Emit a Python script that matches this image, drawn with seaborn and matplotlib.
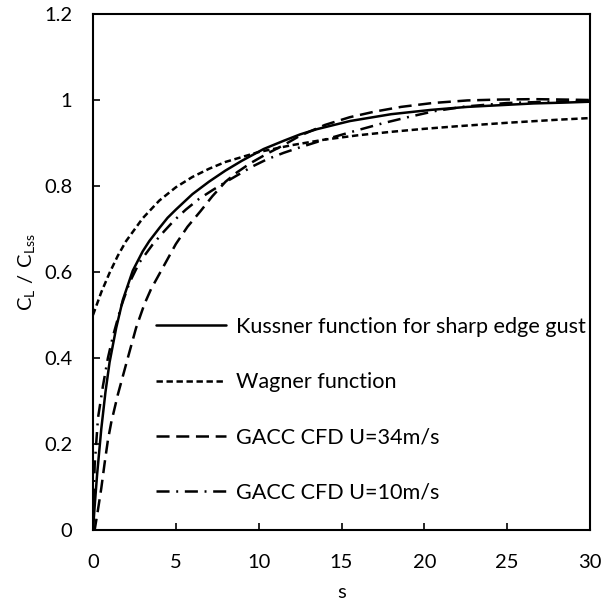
import matplotlib
matplotlib.use("Agg")
import matplotlib.pyplot as plt
import seaborn as sns
import pandas as pd

# Kussner function for a sharp edge gust
s_kussner = [0, 0.1, 0.25, 0.5, 0.75, 1.0, 1.4, 1.8, 2.4, 3.0, 3.4, 4.0, 4.5, 5.0,
             6.0, 7.0, 8.0, 9.0, 10.3, 11.5, 12.5, 13.5, 15.5, 18.0, 20.4, 22.6,
             24.6, 26.6, 28.5, 30]
cl_kussner = [0, 0.055, 0.13, 0.235, 0.32, 0.39, 0.47, 0.535, 0.603, 0.648, 0.672,
              0.702, 0.726, 0.745, 0.781, 0.81, 0.836, 0.859, 0.886, 0.905, 0.92,
              0.932, 0.951, 0.967, 0.977, 0.984, 0.988, 0.992, 0.994, 0.996]

# Wagner function
s_wagner = [0, 0.5, 1, 1.5, 2, 3, 4, 5, 6, 7, 8, 10, 12, 14, 16, 18, 20, 22, 25, 28, 30]
cl_wagner = [0.5, 0.553, 0.598, 0.638, 0.672, 0.725, 0.766, 0.797, 0.821, 0.84, 0.856,
             0.879, 0.895, 0.908, 0.918, 0.926, 0.933, 0.939, 0.947, 0.954, 0.958]

# GACC CFD, U = 34 m/s
s_u34 = [0, 0.1, 0.3, 0.5, 0.7, 0.9, 1.1, 1.5, 2.1, 2.6, 3.1, 3.5, 4.0, 4.5, 5.0, 5.7,
         6.5, 7.2, 8.0, 8.7, 9.5, 10.5, 11.5, 12.5, 14, 15.5, 17, 18.6, 20.5, 22.6,
         24.5, 26.6, 28.5, 30]
cl_u34 = [0, 0.0, 0.047, 0.097, 0.155, 0.209, 0.25, 0.315, 0.40, 0.47, 0.525, 0.56,
          0.595, 0.63, 0.665, 0.705, 0.742, 0.776, 0.81, 0.832, 0.853, 0.875, 0.895,
          0.917, 0.942, 0.960, 0.973, 0.984, 0.993, 0.999, 1.001, 1.002, 1.001, 1.0]

# GACC CFD, U = 10 m/s
s_u10 = [0, 0.1, 0.3, 0.6, 0.9, 1.2, 1.7, 2.2, 2.8, 3.6, 4.3, 4.9, 5.6, 6.4, 7.2, 8.0,
         8.8, 9.6, 10.5, 11.5, 12.5, 13.9, 15.9, 17.5, 19.0, 20.6, 22.5, 25, 27.5, 30]
cl_u10 = [0, 0.15, 0.26, 0.335, 0.40, 0.45, 0.52, 0.575, 0.622, 0.664, 0.695, 0.72,
          0.745, 0.77, 0.79, 0.809, 0.827, 0.845, 0.862, 0.877, 0.89, 0.907, 0.929,
          0.946, 0.96, 0.974, 0.985, 0.993, 0.996, 0.998]

series_names = ["Kussner function for sharp edge gust", "Wagner function",
                "GACC CFD U=34m/s", "GACC CFD U=10m/s"]

x_ticks = [0, 5, 10, 15, 20, 25, 30]
x_tick_labels = ["0", "5", "10", "15", "20", "25", "30"]
y_ticks = [0, 0.2, 0.4, 0.6, 0.8, 1.0, 1.2]
y_tick_labels = ["0", "0.2", "0.4", "0.6", "0.8", "1", "1.2"]

sns.set_theme(style="white")
plt.rcParams["font.family"] = ["Lato", "DejaVu Sans"]
plt.rcParams["mathtext.fontset"] = "custom"
plt.rcParams["mathtext.rm"] = "Lato"
plt.rcParams["lines.scale_dashes"] = False

FS = 15

fig = plt.figure(figsize=(6.03, 6.05), dpi=100)
ax = fig.add_axes([93 / 603, 75 / 605, 497 / 603, 516 / 605])

frames = []
for name, xs, ys in zip(series_names,
                        [s_kussner, s_wagner, s_u34, s_u10],
                        [cl_kussner, cl_wagner, cl_u34, cl_u10]):
    frames.append(pd.DataFrame({"s": xs, "cl": ys, "series": name}))
df = pd.concat(frames, ignore_index=True)

line_styles = {
    series_names[0]: "-",
    series_names[1]: (0, (4.6, 2.6)),
    series_names[2]: (0, (9.4, 4.8)),
    series_names[3]: (0, (9.4, 4.8, 1.4, 4.8)),
}

for name in series_names:
    sub = df[df["series"] == name]
    sns.lineplot(data=sub, x="s", y="cl", ax=ax, color="black", lw=1.8,
                 linestyle=line_styles[name], label=name, sort=False,
                 estimator=None)

ax.set_xlim(0, 30)
ax.set_ylim(0, 1.2)
ax.set_xticks(x_ticks)
ax.set_xticklabels(x_tick_labels)
ax.set_yticks(y_ticks)
ax.set_yticklabels(y_tick_labels)
ax.tick_params(axis="both", direction="in", length=5, width=1.2, colors="black",
               labelsize=FS - 0.5, bottom=True, left=True, top=False, right=False)
ax.tick_params(axis="y", pad=15)
ax.tick_params(axis="x", pad=17)

for sp in ax.spines.values():
    sp.set_visible(True)
    sp.set_color("black")
    sp.set_linewidth(1.5)

ax.set_xlabel("s", fontsize=FS - 0.5, color="black", labelpad=10)
ax.set_ylabel(r"$\mathregular{C_L\ /\ C_{Lss}}$", fontsize=FS - 0.5, color="black",
              labelpad=5)

leg = ax.legend(loc="upper left", bbox_to_anchor=(156 / 603, 1 - 317 / 605),
                bbox_transform=fig.transFigure, frameon=False, fontsize=FS + 0.6,
                handlelength=3.25, handletextpad=0.45, labelspacing=1.63,
                borderpad=0, borderaxespad=0)
for t in leg.get_texts():
    t.set_color("black")

fig.savefig("out.png", dpi=100)
